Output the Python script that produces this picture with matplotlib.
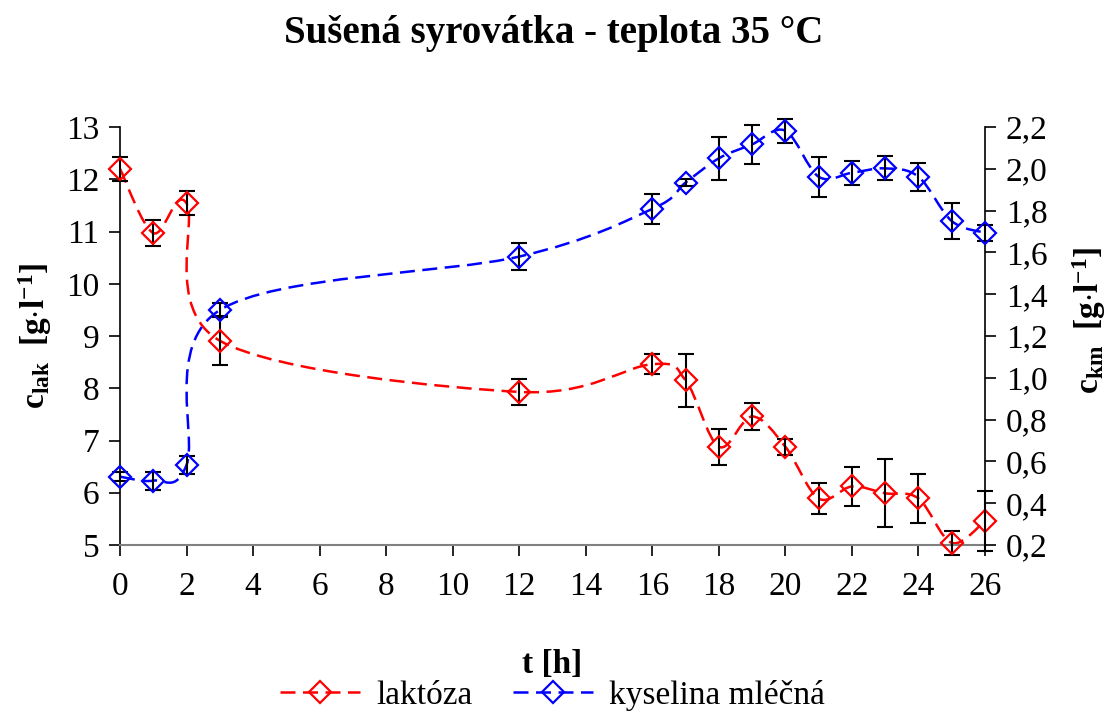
import matplotlib
matplotlib.use("Agg")
import matplotlib.pyplot as plt
from matplotlib.path import Path
from matplotlib.patches import PathPatch
from matplotlib.lines import Line2D
from matplotlib.ticker import FuncFormatter
import numpy as np

plt.rcParams["font.family"] = ["Liberation Serif", "DejaVu Serif"]
plt.rcParams["mathtext.fontset"] = "custom"
plt.rcParams["mathtext.rm"] = "Liberation Serif"
plt.rcParams["mathtext.bf"] = "Liberation Serif:bold"
plt.rcParams["mathtext.it"] = "Liberation Serif:italic"

# data
t = [0, 1, 2, 3, 12, 16, 17, 18, 19, 20, 21, 22, 23, 24, 25, 26]
laktoza = [12.2, 10.97, 11.54, 8.91, 7.93, 8.46, 8.15, 6.88, 7.46, 6.88, 5.89, 6.12, 5.99, 5.89, 5.04, 5.46]
laktoza_err = [0.23, 0.25, 0.23, 0.47, 0.25, 0.19, 0.51, 0.34, 0.26, 0.15, 0.29, 0.38, 0.65, 0.46, 0.23, 0.58]
kyselina = [0.527, 0.508, 0.583, 1.324, 1.58, 1.808, 1.934, 2.05, 2.117, 2.182, 1.962, 1.981, 2.002, 1.962, 1.75, 1.694]
kyselina_err = [0.02, 0.043, 0.043, 0.033, 0.064, 0.072, 0.015, 0.104, 0.094, 0.057, 0.096, 0.057, 0.057, 0.067, 0.087, 0.038]

x_ticks = list(range(0, 27, 2))
left_ticks = list(range(5, 14))
right_ticks = [0.2, 0.4, 0.6, 0.8, 1.0, 1.2, 1.4, 1.6, 1.8, 2.0, 2.2]

DASH = (0, (6, 3))
LW = 1.8
FS = 24


def smooth_path(xs, ys):
    # Excel-like smoothed line: cubic bezier segments through the points
    p = np.column_stack([xs, ys]).astype(float)
    ext = np.vstack([p[0], p, p[-1]])
    verts = [p[0]]
    codes = [Path.MOVETO]
    for i in range(len(p) - 1):
        a, b, c, d = ext[i], ext[i + 1], ext[i + 2], ext[i + 3]
        verts += [b + (c - a) / 6, c - (d - b) / 6, c]
        codes += [Path.CURVE4] * 3
    return Path(verts, codes)


fig = plt.figure(figsize=(11.08, 7.13), dpi=100)
ax = fig.add_axes([120 / 1108, 1 - 545 / 713, 865 / 1108, 418 / 713])
ax2 = ax.twinx()

series = [
    (ax, laktoza, laktoza_err, "red"),
    (ax2, kyselina, kyselina_err, "blue"),
]
for a, y, err, col in series:
    a.add_patch(PathPatch(smooth_path(t, y), fill=False, edgecolor=col,
                          lw=LW, linestyle=DASH, zorder=2))
    a.errorbar(t, y, yerr=err, fmt="none", ecolor="black", elinewidth=1.5,
               capsize=6, capthick=1.5, zorder=3, clip_on=False)
    a.plot(t, y, ls="none", marker="D", ms=11, mfc="none", mec=col,
           mew=1.6, zorder=4, clip_on=False)

ax.set_xlim(0, 26)
ax.set_ylim(5, 13)
ax2.set_ylim(0.2, 2.2)
ax.set_xticks(x_ticks)
ax.set_yticks(left_ticks)
ax2.set_yticks(right_ticks)
ax2.yaxis.set_major_formatter(FuncFormatter(lambda v, p: f"{v:.1f}".replace(".", ",")))

for a in (ax, ax2):
    a.spines["top"].set_visible(False)
    a.tick_params(labelsize=FS, length=8, width=1.2, direction="out", pad=7)
ax.spines["right"].set_visible(False)
ax.spines["left"].set_linewidth(1.2)
ax.spines["bottom"].set_color("#808080")
ax.spines["bottom"].set_linewidth(1.5)
ax.tick_params(axis="x", pad=11)
ax2.spines["left"].set_visible(False)
ax2.spines["bottom"].set_visible(False)
ax2.spines["right"].set_linewidth(1.2)

ax.set_ylabel(r"$\mathbf{c_{lak}\ \ [g{\cdot}l^{-1}]}$", fontsize=FS, va="center")
ax.yaxis.set_label_coords(-0.098, 0.5)
ax2.set_ylabel(r"$\mathbf{c_{km}\ \ [g{\cdot}l^{-1}]}$", fontsize=FS, va="center")
ax2.yaxis.set_label_coords(1.121, 0.538)

ax.set_xlabel("t [h]", fontsize=FS, fontweight="bold", va="center")
ax.xaxis.set_label_coords(0.5, -0.287)

fig.text(0.5, 1 - 33 / 713, "Sušená syrovátka - teplota 35 °C",
         ha="center", va="center", fontsize=28, fontweight="bold")

handles = [
    Line2D([], [], color="red", lw=LW, ls=DASH, marker="D", ms=11, mfc="none", mew=1.6),
    Line2D([], [], color="blue", lw=LW, ls=DASH, marker="D", ms=11, mfc="none", mew=1.6),
]
ax.legend(handles, ["laktóza", "kyselina mléčná"], loc="center",
          bbox_to_anchor=(0.5, -0.36), ncol=2, frameon=False, fontsize=FS,
          handlelength=2.4, handletextpad=0.5, columnspacing=1.2, numpoints=1)

fig.savefig("out.png", dpi=100)
